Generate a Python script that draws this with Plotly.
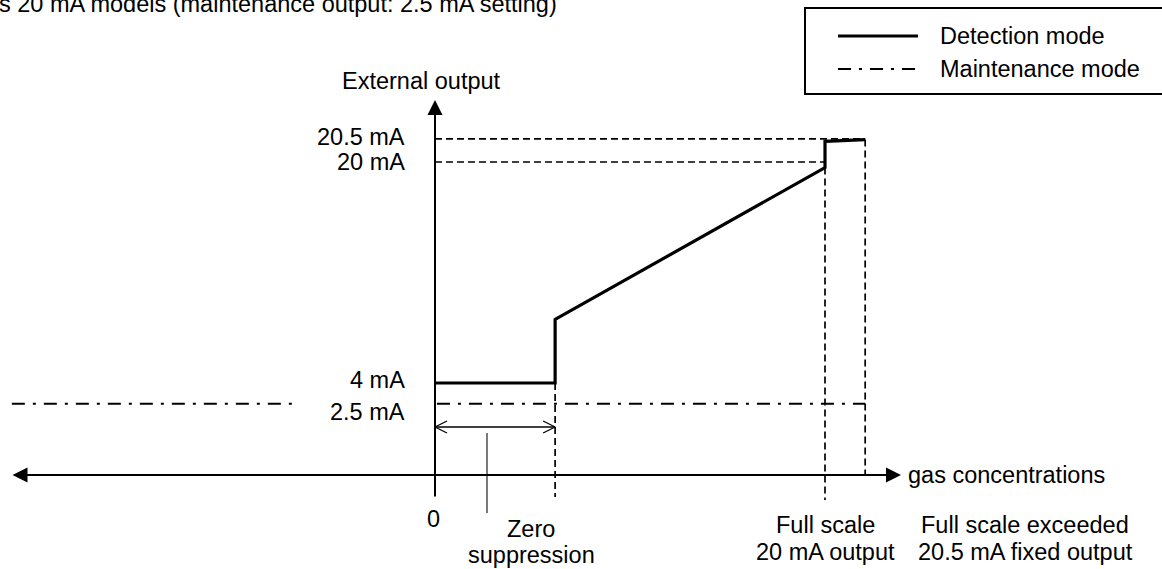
import plotly.graph_objects as go

# ---------------- data (schematic) ----------------
# x: gas concentration in % of full scale, y: external output in mA (schematic scale)
title_text = "s 20 mA models (maintenance output: 2.5 mA setting)"

det_conc = [0, 30.8, 30.8, 100, 100, 110.3]          # detection mode curve
det_ma = [4, 4, 8.6, 19.6, 21.5, 21.62]

maint_conc = [-108.5, -35.4, None, 0.5, 110.3]        # maintenance mode level
maint_ma = [2.5, 2.5, None, 2.5, 2.5]

level_values = [20.5, 20, 4, 2.5]
level_plot = [21.67, 20, 4, 2.5]                      # 20.5 mA is drawn stretched
level_labels = ["20.5 mA", "20 mA", "4 mA", "2.5 mA"]

zero_supp_end = 30.8
full_scale = 100
exceed = 110.3

x_label_zero = "0"
x_label_zs = ["Zero", "suppression"]
x_label_fs = ["Full scale", "20 mA output"]
x_label_ex = ["Full scale exceeded", "20.5 mA fixed output"]
legend_names = ["Detection mode", "Maintenance mode"]

# ---------------- pixel helpers (layout only) ----------------
W, H = 1162, 569
X0, SX = 435.0, 3.9
Y0, SY = 438.25, 13.8125


def dx(px):
    return (px - X0) / SX


def dy(py):
    return (Y0 - py) / SY


FONT = "Liberation Sans, Arial, sans-serif"
FS = 23.5
DASHDOT = "13px,8px,3px,8px"
DASH = "7px,4px"

axis_y = dy(475)

fig = go.Figure()

# dashed guide lines
guides = [
    ([0, exceed], [level_plot[0], level_plot[0]]),
    ([0, full_scale], [level_plot[1], level_plot[1]]),
    ([zero_supp_end, zero_supp_end], [det_ma[1], dy(497)]),
    ([full_scale, full_scale], [det_ma[3], dy(500)]),
    ([exceed, exceed], [det_ma[5], axis_y]),
]
for gx, gy in guides:
    fig.add_trace(go.Scatter(x=gx, y=gy, mode="lines", hoverinfo="skip",
                             line=dict(color="black", width=1.7, dash=DASH),
                             showlegend=False))

# maintenance mode
fig.add_trace(go.Scatter(x=maint_conc, y=maint_ma, mode="lines",
                         line=dict(color="black", width=2, dash=DASHDOT),
                         name=legend_names[1], showlegend=False))

# detection mode
fig.add_trace(go.Scatter(x=det_conc, y=det_ma, mode="lines",
                         line=dict(color="black", width=3.2),
                         name=legend_names[0], showlegend=False))

# zero-suppression double arrow with open chevrons
ya = dy(427)
cl, ch = 12 / SX, 6 / SY
fig.add_trace(go.Scatter(
    x=[0, zero_supp_end, None,
       cl, 0, cl, None,
       zero_supp_end - cl, zero_supp_end, zero_supp_end - cl],
    y=[ya, ya, None,
       ya + ch, ya, ya - ch, None,
       ya + ch, ya, ya - ch],
    mode="lines", line=dict(color="black", width=1.3),
    hoverinfo="skip", showlegend=False))

# leader line for zero suppression label
fig.add_trace(go.Scatter(x=[dx(487), dx(487)], y=[dy(433), dy(513)], mode="lines",
                         line=dict(color="#333333", width=1.3),
                         hoverinfo="skip", showlegend=False))

annotations = []

# x axis with arrows on both ends
annotations.append(dict(x=dx(901), y=axis_y, ax=dx(11), ay=axis_y, xref="x", yref="y",
                        axref="x", ayref="y", text="", showarrow=True,
                        arrowhead=2, startarrowhead=2, arrowside="end+start",
                        arrowsize=1.5, startarrowsize=1.5, arrowwidth=2,
                        arrowcolor="black"))
# y axis with arrow on top
annotations.append(dict(x=0, y=dy(100), ax=0, ay=dy(498), xref="x", yref="y",
                        axref="x", ayref="y", text="", showarrow=True,
                        arrowhead=2, arrowsize=1.5, arrowwidth=2,
                        arrowcolor="black"))


def txt(x, y, t, xa="center", ya="middle", size=FS):
    annotations.append(dict(x=x, y=y, xref="x", yref="y", text=t, showarrow=False,
                            xanchor=xa, yanchor=ya, align="center",
                            font=dict(family=FONT, size=size, color="black")))


# title (cut at the left / top edge as in the original)
annotations.append(dict(x=-3 / W, y=1 - 4 / H, xref="paper", yref="paper",
                        text=title_text, showarrow=False, xanchor="left",
                        yanchor="middle",
                        font=dict(family=FONT, size=FS, color="black")))

txt(dx(421), dy(81), "External output")
label_dy_px = [-2, 0, -3, 8]
for lv, lab, off in zip(level_plot, level_labels, label_dy_px):
    txt(dx(407), lv - off / SY, lab, xa="right")

txt(dx(433), dy(519), x_label_zero)
txt(dx(531), dy(529), x_label_zs[0])
txt(dx(531), dy(555), x_label_zs[1])
txt(full_scale, dy(525), x_label_fs[0])
txt(full_scale, dy(552), x_label_fs[1])
txt(dx(1025), dy(525), x_label_ex[0])
txt(dx(1025), dy(552), x_label_ex[1])
txt(dx(906), axis_y, "gas concentrations", xa="left")

# legend (drawn)
shapes = [
    dict(type="rect", xref="x", yref="y", x0=dx(805), x1=dx(1175), y0=dy(8), y1=dy(94),
         line=dict(color="black", width=2), fillcolor="rgba(0,0,0,0)"),
    dict(type="line", xref="x", yref="y", x0=dx(838), x1=dx(918), y0=dy(36), y1=dy(36),
         line=dict(color="black", width=3.2)),
    dict(type="line", xref="x", yref="y", x0=dx(838), x1=dx(918), y0=dy(69), y1=dy(69),
         line=dict(color="black", width=2, dash=DASHDOT)),
]
txt(dx(938), dy(36), legend_names[0], xa="left")
txt(dx(938), dy(69), legend_names[1], xa="left")

fig.update_layout(
    width=W, height=H, margin=dict(l=0, r=0, t=0, b=0),
    paper_bgcolor="white", plot_bgcolor="white",
    xaxis=dict(range=[dx(0), dx(W)], visible=False, fixedrange=True),
    yaxis=dict(range=[dy(H), dy(0)], visible=False, fixedrange=True),
    annotations=annotations, shapes=shapes, showlegend=False,
)

fig.write_html("out.html", config={"displayModeBar": False},
               post_script="document.body.style.margin='0';document.body.style.overflow='hidden';")
